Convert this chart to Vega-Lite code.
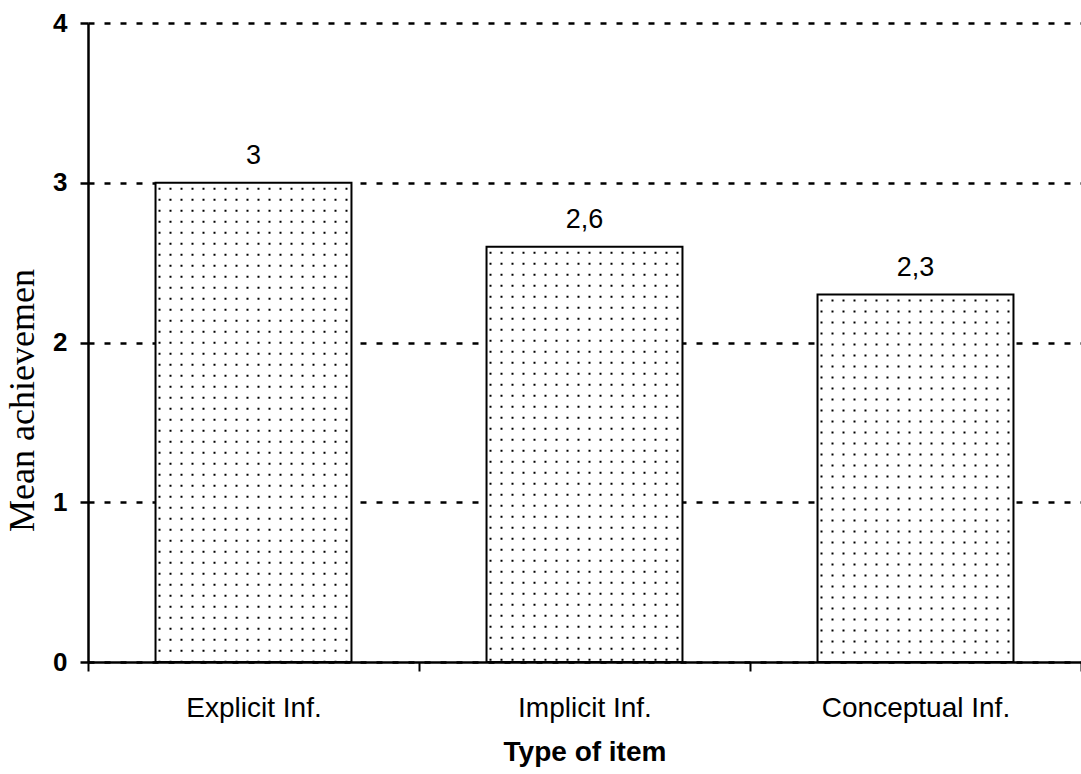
{
  "$schema": "https://vega.github.io/schema/vega-lite/v6.json",
  "width": 993,
  "height": 639,
  "autosize": {"type": "none"},
  "padding": {"left": 88, "top": 23, "right": 0, "bottom": 112},
  "background": "white",
  "config": {
    "view": {"stroke": null},
    "locale": {"number": {"decimal": ",", "thousands": ".", "grouping": [3], "currency": ["", ""]}},
    "axis": {"domainColor": "black", "tickColor": "black", "labelColor": "black", "titleColor": "black"}
  },
  "data": {
    "values": [
      {"type": "Explicit Inf.", "value": 3},
      {"type": "Implicit Inf.", "value": 2.6},
      {"type": "Conceptual Inf.", "value": 2.3}
    ]
  },
  "encoding": {
    "x": {
      "field": "type",
      "type": "nominal",
      "sort": null,
      "scale": {"paddingInner": 0, "paddingOuter": 0},
      "axis": {
        "title": "Type of item",
        "labelAngle": 0,
        "labelLimit": 0,
        "tickBand": "extent",
        "domainWidth": 2.5,
        "tickWidth": 2,
        "tickSize": 9,
        "labelFont": "Liberation Sans",
        "labelFontSize": 28,
        "labelBaseline": "alphabetic",
        "labelPadding": 45,
        "titleFont": "Liberation Sans",
        "titleFontSize": 28,
        "titleFontWeight": "bold",
        "titleBaseline": "alphabetic",
        "titleY": 98
      }
    }
  },
  "layer": [
    {
      "mark": {"type": "bar", "color": "black", "width": {"band": 0.592}},
      "encoding": {
        "y": {
          "field": "value",
          "type": "quantitative",
          "scale": {"domain": [0, 4], "nice": false},
          "axis": {
            "title": "Mean achievemen",
            "values": [0, 1, 2, 3, 4],
            "format": "d",
            "grid": true,
            "gridColor": "black",
            "gridDash": [6, 10],
            "gridWidth": 2.5,
            "gridOpacity": 1,
            "domainWidth": 2.5,
            "tickWidth": 2.5,
            "tickSize": 8,
            "labelFont": "Liberation Sans",
            "labelFontWeight": "bold",
            "labelFontSize": 26,
            "labelPadding": 13,
            "titleFont": "Liberation Serif",
            "titleFontWeight": "normal",
            "titleFontSize": 36,
            "titleAngle": -90,
            "titleBaseline": "alphabetic",
            "titleX": -55,
            "titleY": 377
          }
        }
      }
    },
    {
      "mark": {
        "type": "rule",
        "stroke": "white",
        "strokeDash": [9, 2],
        "strokeDashOffset": 6,
        "xOffset": -98,
        "x2Offset": 98,
        "clip": true
      },
      "encoding": {
        "x2": {"field": "type"},
        "y": {"datum": 0, "type": "quantitative"},
        "strokeWidth": {
          "field": "value",
          "type": "quantitative",
          "scale": {"domain": [0, 4], "range": [0, 1278]},
          "legend": null
        }
      }
    },
    {
      "mark": {"type": "rule", "stroke": "white", "strokeWidth": 196, "strokeDash": [9, 2], "strokeDashOffset": 4},
      "encoding": {
        "y": {"field": "value", "type": "quantitative"},
        "y2": {"datum": 0}
      }
    },
    {
      "mark": {"type": "bar", "fillOpacity": 0, "stroke": "black", "strokeWidth": 2, "width": {"band": 0.592}},
      "encoding": {
        "y": {"field": "value", "type": "quantitative"}
      }
    },
    {
      "mark": {"type": "text", "font": "Liberation Sans", "fontSize": 27, "color": "black", "baseline": "alphabetic", "dy": -19},
      "encoding": {
        "y": {"field": "value", "type": "quantitative"},
        "text": {"field": "value", "type": "quantitative", "format": "~g"}
      }
    }
  ]
}
